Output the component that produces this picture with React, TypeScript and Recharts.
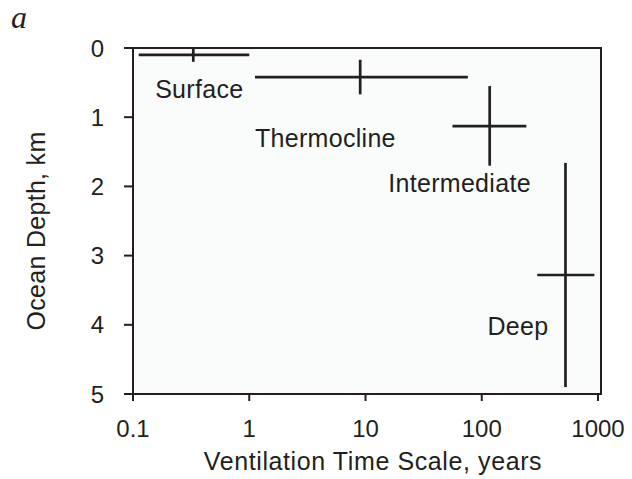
import React from 'react';
import { ScatterChart, Scatter, XAxis, YAxis, ReferenceArea, Label } from 'recharts';

// Ventilation regions (x = ventilation time scale, years; depth in km)
const regions = ['Surface', 'Thermocline', 'Intermediate', 'Deep'];
const centerTime = [0.33, 9, 117, 525];
const centerDepth = [0.1, 0.42, 1.13, 3.28];
const timeMin = [0.112, 1.12, 56, 300];
const timeMax = [1.0, 76, 242, 930];
const depthMin = [0.015, 0.17, 0.55, 1.66];
const depthMax = [0.2, 0.67, 1.7, 4.9];
const labelTime = [0.155, 1.12, 15.7, 112];
const labelDepth = [0.6, 1.3, 1.96, 4.02];

const xTicks = [0.1, 1, 10, 100, 1000];
const yTicks = [0, 1, 2, 3, 4, 5];

const INK = '#231f20';
const FONT = 'Liberation Sans, Arial, Helvetica, sans-serif';

const hSegs = regions.map((r, i) => [
  { x: timeMin[i], y: centerDepth[i] },
  { x: timeMax[i], y: centerDepth[i] },
]);
const vSegs = regions.map((r, i) => [
  { x: centerTime[i], y: depthMin[i] },
  { x: centerTime[i], y: depthMax[i] },
]);
const labelData = regions.map((r, i) => ({ x: labelTime[i], y: labelDepth[i], name: r }));

const NoDot = () => <g />;

const LabelShape = (props: any) => {
  const { cx, cy, payload } = props;
  return (
    <text x={cx} y={cy} dy="0.35em" textAnchor="start" fontSize={25} fontFamily={FONT} fill={INK} letterSpacing={0.3}>
      {payload.name}
    </text>
  );
};

export default function App() {
  return (
    <div style={{ position: 'absolute', left: 0, top: 0, width: 632, height: 479, background: '#fff' }}>
      <ScatterChart width={632} height={479} margin={{ top: 48, right: 31, bottom: 0, left: 0 }}>
        <XAxis
          type="number"
          dataKey="x"
          scale="log"
          domain={[0.1, 1061]}
          allowDataOverflow
          ticks={xTicks}
          height={85}
          tickSize={7}
          tickMargin={19}
          tick={{ fontSize: 24, fontFamily: FONT, fill: INK }}
          tickLine={{ stroke: INK, strokeWidth: 2 }}
          axisLine={{ stroke: INK, strokeWidth: 2 }}
          interval={0}
        >
          <Label
            content={(p: any) => {
              const vb = p.viewBox;
              return (
                <text x={vb.x + vb.width / 2 + 6} y={vb.y + 76} textAnchor="middle" fontSize={25} fontFamily={FONT} fill={INK} letterSpacing={0.6}>
                  Ventilation Time Scale, years
                </text>
              );
            }}
          />
        </XAxis>
        <YAxis
          type="number"
          dataKey="y"
          domain={[0, 5]}
          reversed
          ticks={yTicks}
          width={133}
          tickSize={9}
          tickMargin={20}
          tick={{ fontSize: 24, fontFamily: FONT, fill: INK }}
          tickLine={{ stroke: INK, strokeWidth: 2 }}
          axisLine={{ stroke: INK, strokeWidth: 2 }}
          interval={0}
        >
          <Label
            content={(p: any) => {
              const vb = p.viewBox;
              const cx = vb.x + 36;
              const cy = vb.y + vb.height / 2 + 10;
              return (
                <text x={cx} y={cy} dy="0.35em" transform={`rotate(-90 ${cx} ${cy})`} textAnchor="middle" fontSize={25} fontFamily={FONT} fill={INK} letterSpacing={0.3}>
                  Ocean Depth, km
                </text>
              );
            }}
          />
        </YAxis>
        <ReferenceArea x1={0.1} x2={1061} y1={0} y2={5} fill="#fafcfc" fillOpacity={1} stroke={INK} strokeWidth={2} ifOverflow="visible" />
        {hSegs.map((d, i) => (
          <Scatter key={'h' + i} data={d} line={{ stroke: INK, strokeWidth: 2.7 }} shape={NoDot} isAnimationActive={false} />
        ))}
        {vSegs.map((d, i) => (
          <Scatter key={'v' + i} data={d} line={{ stroke: INK, strokeWidth: 2.7 }} shape={NoDot} isAnimationActive={false} />
        ))}
        <Scatter data={labelData} shape={LabelShape} isAnimationActive={false} />
      </ScatterChart>
      <svg width={632} height={479} style={{ position: 'absolute', left: 0, top: 0, pointerEvents: 'none' }}>
        <text x={11} y={28} fontSize={32} fontFamily="Liberation Serif, Times New Roman, serif" fontStyle="italic" fill={INK}>
          a
        </text>
      </svg>
    </div>
  );
}
